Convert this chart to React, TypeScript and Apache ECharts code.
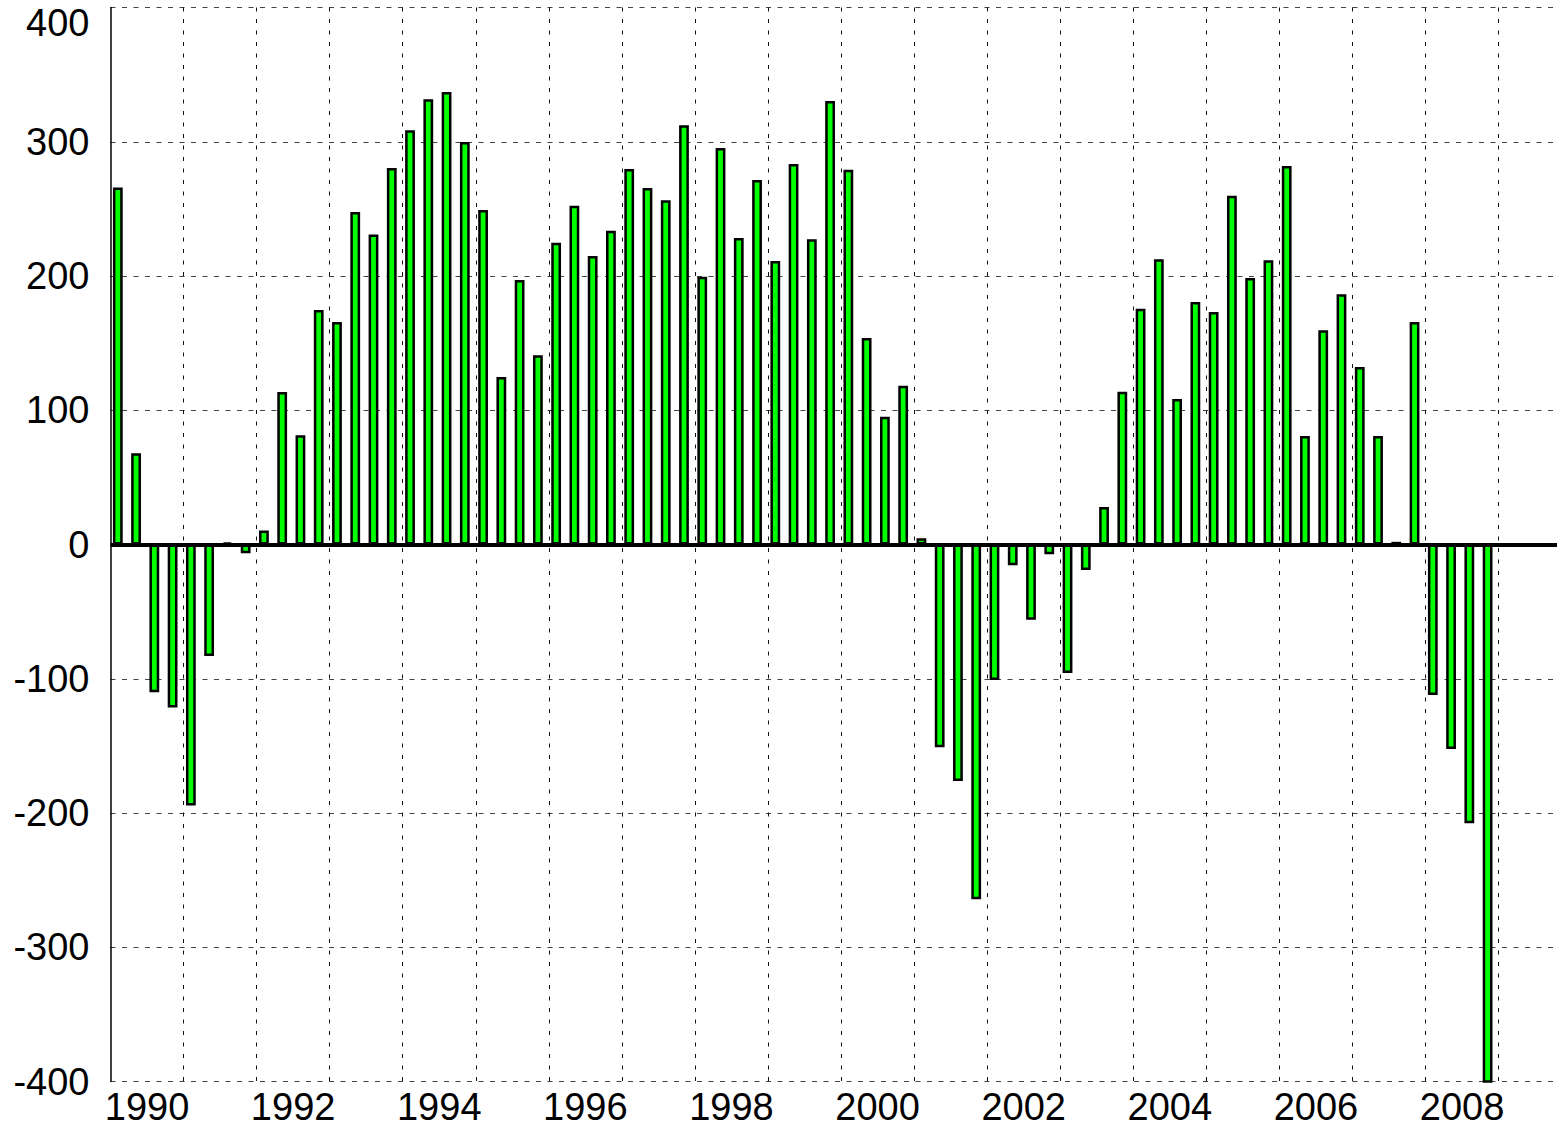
import React, { useEffect, useRef } from 'react';
import * as echarts from 'echarts';

// ---- data ----
const START_YEAR = 1990;
// quarterly values, 1990 Q1 .. 2008 Q4
const quarterValues: number[] = [
  266, 68, -110, -121.5, // 1990
  -194.5, -83, 1.5, -6.5, // 1991
  10.5, 113.6, 81.3, 174.7, // 1992
  165.7, 247.7, 231, 280.4, // 1993
  308.5, 331.6, 337, 299.8, // 1994
  249.2, 124.8, 197, 140.9, // 1995
  224.8, 252.4, 214.9, 233.7, // 1996
  279.7, 265.5, 256.4, 312.3, // 1997
  199.5, 295.3, 228.3, 271.5, // 1998
  211.2, 283.4, 227.3, 330.4, // 1999
  279.2, 153.8, 95.2, 118.3, // 2000
  4.6, -151, -176.2, -264.3, // 2001
  -100.9, -15.5, -56, -7.3, // 2002
  -95.7, -19, 27.9, 113.8, // 2003
  175.6, 212.4, 108.4, 180.6, // 2004
  173.2, 259.8, 198.5, 211.7, // 2005
  282, 80.8, 159.6, 186.4, // 2006
  132.2, 80.8, 2, 165.7, // 2007
  -112.1, -152.3, -207.7, -430, // 2008
];
const xLabelYears: number[] = [1990, 1992, 1994, 1996, 1998, 2000, 2002, 2004, 2006, 2008];
const yMin = -400;
const yMax = 400;
const yStep = 100;
const xMin = 1990;
const xMax = 2009.8;

const FONT = '"Liberation Sans", Arial, Helvetica, sans-serif';

export default function App() {
  const ref = useRef<HTMLDivElement>(null);

  useEffect(() => {
    if (!ref.current) return;
    const chart = echarts.init(ref.current, undefined, { renderer: 'svg' });

    const barData = quarterValues.map((v, i) => [START_YEAR + i / 4 + 0.1, v]);

    chart.setOption({
      animation: false,
      backgroundColor: '#ffffff',
      grid: { left: 110.5, right: 2.5, top: 7.5, bottom: 45.5, containLabel: false },
      xAxis: [
        {
          type: 'value',
          min: xMin,
          max: xMax,
          interval: 1,
          position: 'bottom',
          axisLine: { show: false, onZero: false },
          axisTick: { show: false },
          axisLabel: { show: false },
          splitLine: {
            show: true,
            showMinLine: false,
            showMaxLine: false,
            lineStyle: { color: '#111', width: 1, type: [4, 7.5] },
          },
        },
        {
          type: 'value',
          min: xMin,
          max: xMax,
          interval: 0.5,
          position: 'bottom',
          axisLine: { show: false, onZero: false },
          axisTick: { show: false },
          splitLine: { show: false },
          axisLabel: {
            show: true,
            margin: 6,
            fontSize: 38,
            fontFamily: FONT,
            color: '#000',
            hideOverlap: false,
            showMinLabel: true,
            showMaxLabel: true,
            formatter: (v: number) => {
              const y = v - 0.5;
              return xLabelYears.indexOf(y) >= 0 ? String(y) : '';
            },
          },
        },
      ],
      yAxis: {
        type: 'value',
        min: yMin,
        max: yMax,
        interval: yStep,
        axisLine: { show: true, onZero: false, lineStyle: { color: '#000', width: 1.5 } },
        axisTick: { show: false },
        axisLabel: {
          margin: 21,
          fontSize: 38,
          fontFamily: FONT,
          color: '#000',
          formatter: (v: number) => (v === yMax ? '{t|' + v + '}' : String(v)),
          rich: {
            t: { fontSize: 38, fontFamily: FONT, color: '#000', padding: [31, 0, 0, 0] },
          },
        },
        splitLine: {
          show: true,
          lineStyle: { color: '#444', width: 1, type: [5, 6.5] },
        },
      },
      series: [
        {
          type: 'bar',
          xAxisIndex: 0,
          yAxisIndex: 0,
          data: barData,
          barWidth: 9.8,
          clip: true,
          itemStyle: { color: '#00ff00', borderColor: '#000', borderWidth: 2.5 },
          markLine: {
            silent: true,
            symbol: ['none', 'none'],
            label: { show: false },
            lineStyle: { color: '#000', width: 4, type: 'solid' },
            data: [{ yAxis: 0 }],
          },
        },
      ],
    });

    return () => {
      chart.dispose();
    };
  }, []);

  return (
    <div
      ref={ref}
      style={{ position: 'fixed', left: 0, top: 0, width: 1560, height: 1127, background: '#fff' }}
    />
  );
}
